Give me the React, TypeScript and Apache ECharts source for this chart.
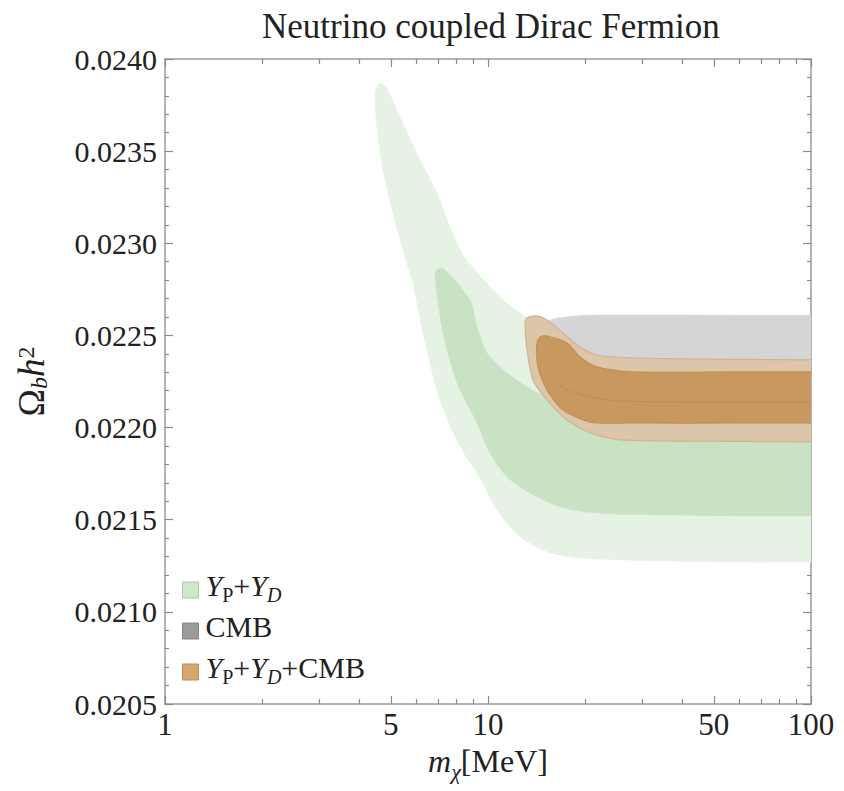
import React, { useEffect, useRef } from "react";
import * as echarts from "echarts";

const FONT = '"Liberation Serif", "Times New Roman", serif';
const TXT = "#222";

// ---- axis ticks ----
const xMajorTicks = [1, 5, 10, 50, 100];
const xMinorTicks = [2, 3, 4, 6, 7, 8, 9, 20, 30, 40, 60, 70, 80, 90];
const yMin = 0.0205;
const yMax = 0.024;
const yStep = 0.0005;

// ---- contour outlines: [m_chi (MeV), Omega_b h^2] ----
const ypYd2sigma: number[][] = [
  [4.63, 0.02387], [4.83, 0.02385], [5.34, 0.023685], [6.16, 0.023452],
  [6.95, 0.023273], [7.63, 0.023088], [8.37, 0.022937], [9.65, 0.022806],
  [11.13, 0.022692], [13.21, 0.022595], [16.71, 0.02245], [22, 0.0224],
  [60, 0.0224], [100, 0.0224], [115, 0.0224], [130, 0.0224],
  [130, 0.02127], [115, 0.02127], [100, 0.02127], [60, 0.02127],
  [25.6, 0.021282], [19.27, 0.021292], [15.56, 0.02132], [12.57, 0.021406],
  [10.66, 0.021553], [9.45, 0.021727], [8.49, 0.021851], [7.74, 0.021987],
  [7.1, 0.02215], [6.85, 0.022242], [6.29, 0.022513], [5.86, 0.022785],
  [5.65, 0.022871], [5.15, 0.023126], [4.73, 0.023398], [4.53, 0.023631],
  [4.47, 0.023816], [4.56, 0.02386],
];

const ypYd1sigma: number[][] = [
  [6.95, 0.022855], [7.26, 0.022866], [8.8, 0.022692], [9.25, 0.022546],
  [9.93, 0.022405], [11.45, 0.022296], [13.21, 0.02222], [14.28, 0.022188],
  [16.71, 0.02215], [22.2, 0.022123], [60, 0.022123], [100, 0.022123],
  [115, 0.022123], [130, 0.022123], [130, 0.02152], [115, 0.02152],
  [100, 0.02152], [60, 0.02152], [25.6, 0.02153], [20.26, 0.021542],
  [16.71, 0.021569], [13.49, 0.021645], [11.45, 0.021732], [10.14, 0.021862],
  [9.18, 0.022036], [8.02, 0.022242], [7.26, 0.022513], [6.85, 0.022817],
];

const cmb: number[][] = [
  [15.0, 0.02255], [15.56, 0.022584], [17.5, 0.0226], [20, 0.02261],
  [60, 0.02261], [100, 0.02261], [115, 0.02261], [130, 0.02261],
  [130, 0.0221], [115, 0.0221], [100, 0.0221], [60, 0.0221],
  [25, 0.0221], [18, 0.02215], [16, 0.02228],
];

const combined2sigma: number[][] = [
  [13.21, 0.022595], [14.18, 0.022606], [15.23, 0.022584], [17.07, 0.022513],
  [19.27, 0.022437], [21.75, 0.022394], [27.52, 0.022378], [60, 0.02237],
  [100, 0.022367], [115, 0.022367], [130, 0.022367], [130, 0.021922],
  [115, 0.021922], [100, 0.021922], [60, 0.021925], [25.63, 0.021933],
  [20.7, 0.021971], [17.56, 0.022041], [15.23, 0.02215], [13.78, 0.022258],
  [13.21, 0.022421], [13.02, 0.022568],
];

const combined1sigma: number[][] = [
  [14.49, 0.022492], [15.23, 0.022497], [17.56, 0.022459], [19.27, 0.022383],
  [21.75, 0.022329], [27.52, 0.022302], [60, 0.022302], [100, 0.022302],
  [115, 0.022302], [130, 0.022302], [130, 0.022025], [115, 0.022025],
  [100, 0.022025], [60, 0.022025], [27.52, 0.022025], [20.7, 0.02203],
  [17.07, 0.022096], [15.23, 0.022204], [14.28, 0.022329], [14.18, 0.022459],
];

const combinedInnerLine: number[][] = [
  [16.35, 0.022242], [17.56, 0.022204], [20.7, 0.022166], [25.63, 0.022144],
  [60, 0.022139], [100, 0.022139], [130, 0.022139],
];

const legendNames = ["YP+YD", "CMB", "YP+YD+CMB"];
const legendColors = ["#cfe8c9", "#9b9b9b", "#d6a66c"];
const legendBorders = ["#a9c9a2", "#858585", "#b98c55"];

function polygonSeries(
  name: string,
  pts: number[][],
  fill: string,
  stroke: string | null,
  z: number,
  legendColor: string
) {
  return {
    type: "custom",
    name,
    data: pts,
    z,
    clip: true,
    silent: true,
    itemStyle: { color: legendColor },
    renderItem: (params: any, api: any) => {
      if (params.dataIndex !== 0) return null;
      const points = pts.map((p) => api.coord(p));
      return {
        type: "polygon",
        shape: { points, smooth: 0.25 },
        style: {
          fill,
          stroke: stroke || fill,
          lineWidth: stroke ? 1.2 : 0.5,
        },
      };
    },
  };
}

function lineSeries(name: string, pts: number[][], stroke: string, z: number) {
  return {
    type: "custom",
    name,
    data: pts,
    z,
    clip: true,
    silent: true,
    renderItem: (params: any, api: any) => {
      if (params.dataIndex !== 0) return null;
      const points = pts.map((p) => api.coord(p));
      return {
        type: "polyline",
        shape: { points, smooth: 0.3 },
        style: { stroke, lineWidth: 1, fill: null, opacity: 0.6 },
      };
    },
  };
}

const legendRich = {
  n: { fontFamily: FONT, fontSize: 30, color: TXT, lineHeight: 30, padding: [0, 0, 5, 0], verticalAlign: "bottom" },
  i: { fontFamily: FONT, fontSize: 30, color: TXT, lineHeight: 30, padding: [0, 0, 5, 0], verticalAlign: "bottom", fontStyle: "italic" },
  s: { fontFamily: FONT, fontSize: 20, color: TXT, lineHeight: 20, verticalAlign: "bottom" },
  si: { fontFamily: FONT, fontSize: 20, color: TXT, lineHeight: 20, verticalAlign: "bottom", fontStyle: "italic" },
};

const xNameRich = {
  n: { fontFamily: FONT, fontSize: 32, color: TXT, lineHeight: 32, padding: [0, 0, 6, 0], verticalAlign: "bottom" },
  i: { fontFamily: FONT, fontSize: 32, color: TXT, lineHeight: 32, padding: [0, 0, 6, 0], verticalAlign: "bottom", fontStyle: "italic" },
  si: { fontFamily: FONT, fontSize: 22, color: TXT, lineHeight: 22, verticalAlign: "bottom", fontStyle: "italic" },
};

const yNameRich = {
  n: { fontFamily: FONT, fontSize: 37, color: TXT, lineHeight: 37, padding: [4, 0, 6, 0] },
  i: { fontFamily: FONT, fontSize: 37, color: TXT, lineHeight: 37, padding: [4, 0, 6, 0], fontStyle: "italic" },
  si: { fontFamily: FONT, fontSize: 24, color: TXT, lineHeight: 24, verticalAlign: "bottom", fontStyle: "italic" },
  sup: { fontFamily: FONT, fontSize: 24, color: TXT, lineHeight: 24, verticalAlign: "top" },
};

function legendLabel(name: string) {
  if (name === "YP+YD") return "{i|Y}{s|P}{n|+}{i|Y}{si|D}";
  if (name === "CMB") return "{n|CMB}";
  return "{i|Y}{s|P}{n|+}{i|Y}{si|D}{n|+CMB}";
}

const axisLineStyle = { color: "#9a9a9a", width: 1.5 };
const tickStyle = { color: "#8a8a8a", width: 1.2 };

function xAxisDef(position: "bottom" | "top", major: boolean) {
  return {
    type: "log",
    logBase: 10,
    min: 1,
    max: 100,
    position,
    axisLine: { show: major, onZero: false, lineStyle: axisLineStyle },
    axisTick: {
      show: true,
      inside: true,
      length: major ? 8 : 5,
      lineStyle: tickStyle,
      customValues: major ? xMajorTicks : xMinorTicks,
    },
    minorTick: { show: false },
    splitLine: { show: false },
    axisLabel: {
      show: position === "bottom" && major,
      customValues: xMajorTicks,
      fontFamily: FONT,
      fontSize: 31,
      color: TXT,
      margin: 5,
      formatter: (v: number) => String(Math.round(v)),
    },
    ...(position === "bottom" && major
      ? {
          name: "{i|m}{si|χ}{n|[MeV]}",
          nameLocation: "middle",
          nameGap: 40,
          nameTextStyle: { rich: xNameRich },
        }
      : {}),
  };
}

function yAxisDef(position: "left" | "right") {
  return {
    type: "value",
    min: yMin,
    max: yMax,
    interval: yStep,
    position,
    axisLine: { show: true, onZero: false, lineStyle: axisLineStyle },
    axisTick: { show: true, inside: true, length: 8, lineStyle: tickStyle },
    minorTick: { show: true, splitNumber: 5, length: 4, lineStyle: tickStyle },
    splitLine: { show: false },
    axisLabel: {
      show: position === "left",
      fontFamily: FONT,
      fontSize: 30,
      color: TXT,
      margin: 8,
      formatter: (v: number) => v.toFixed(4),
    },
    ...(position === "left"
      ? {
          name: "{n|Ω}{si|b}{i|h}{sup|2}",
          nameLocation: "middle",
          nameGap: 114,
          nameRotate: 90,
          nameTextStyle: { rich: yNameRich },
        }
      : {}),
  };
}

export default function App() {
  const ref = useRef<HTMLDivElement>(null);
  useEffect(() => {
    if (!ref.current) return;
    const chart = echarts.init(ref.current, null, { renderer: "svg" });
    const option: any = {
      animation: false,
      backgroundColor: "#ffffff",
      title: {
        text: "Neutrino coupled Dirac Fermion",
        left: 257,
        top: 4,
        textStyle: { fontFamily: FONT, fontSize: 35, fontWeight: "normal", color: TXT },
      },
      grid: { left: 165, right: 33, top: 59, bottom: 87, containLabel: false },
      xAxis: [
        xAxisDef("bottom", true),
        xAxisDef("bottom", false),
        xAxisDef("top", true),
        xAxisDef("top", false),
      ],
      yAxis: [yAxisDef("left"), yAxisDef("right")],
      legend: {
        show: true,
        orient: "vertical",
        left: 177,
        top: 565,
        itemGap: 6,
        itemWidth: 16,
        itemHeight: 16,
        icon: "rect",
        selectedMode: false,
        formatter: legendLabel,
        textStyle: { rich: legendRich, padding: [0, 0, 0, 2] },
        data: legendNames.map((n, k) => ({
          name: n,
          icon: "rect",
          itemStyle: { color: legendColors[k], borderColor: legendBorders[k], borderWidth: 1 },
        })),
      },
      series: [
        polygonSeries("YP+YD", ypYd2sigma, "#e6f2e3", null, 1, legendColors[0]),
        polygonSeries("YP+YD", ypYd1sigma, "#c9e2c3", null, 2, legendColors[0]),
        polygonSeries("CMB", cmb, "#d5d5d7", null, 3, legendColors[1]),
        polygonSeries("YP+YD+CMB", combined2sigma, "#dcc5a8", "#d2b38f", 4, legendColors[2]),
        polygonSeries("YP+YD+CMB", combined1sigma, "#c9985f", "#c08e56", 5, legendColors[2]),
        lineSeries("inner", combinedInnerLine, "#b88650", 6),
      ],
    };
    chart.setOption(option);
    return () => chart.dispose();
  }, []);
  return (
    <div
      ref={ref}
      style={{ position: "absolute", left: 0, top: 0, width: 844, height: 791, background: "#fff" }}
    />
  );
}
